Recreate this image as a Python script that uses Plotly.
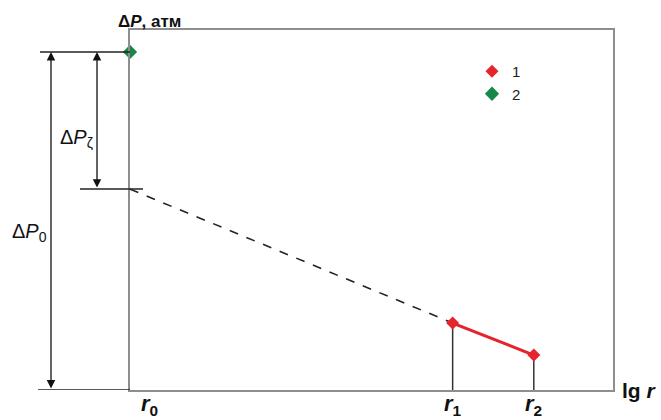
import plotly.graph_objects as go

# ---- data (arbitrary units) ----
tick_names = ["r0", "r1", "r2"]
lg_r = [0.0, 6.68, 8.36]          # positions of r0, r1, r2 on lg r axis
dp_measured = [1.86, 0.97]        # series 1: measured ΔP at r1, r2
dp_well = [9.39]                  # series 2: ΔP at the well radius r0
dp_extrap = 5.58                  # extrapolated ΔP at r0 (without skin)

FONT = "Arial, Liberation Sans, sans-serif"
RED = "#e5242b"
GREEN = "#17884a"

W, H = 661, 420
ML, MR, MT, MB = 130, 48, 30, 30
PW, PH = W - ML - MR, H - MT - MB

def px_to_paper_x(px):
    return (px - ML) / PW

def py_to_paper_y(py):
    return (H - MB - py) / PH

fig = go.Figure()

# dashed extrapolation
fig.add_trace(go.Scatter(x=[lg_r[0], lg_r[1]], y=[dp_extrap, dp_measured[0]],
                         mode="lines", line=dict(color="#222", width=1.6, dash="dash"),
                         showlegend=False, hoverinfo="skip"))
# measured red line
fig.add_trace(go.Scatter(x=lg_r[1:], y=dp_measured, mode="lines",
                         line=dict(color=RED, width=3), showlegend=False))
fig.add_trace(go.Scatter(x=lg_r[1:], y=dp_measured, mode="markers", name="1",
                         marker=dict(symbol="diamond", size=10, color=RED),
                         cliponaxis=False))
fig.add_trace(go.Scatter(x=[lg_r[0]], y=dp_well, mode="markers", name="2",
                         marker=dict(symbol="diamond", size=11, color=GREEN),
                         cliponaxis=False))

shapes = []
# vertical drop lines at r1, r2
for xv, yv in zip(lg_r[1:], dp_measured):
    shapes.append(dict(type="line", xref="x", yref="y", x0=xv, x1=xv, y0=0, y1=yv,
                       line=dict(color="#333", width=1.5), layer="below"))
# horizontal reference lines on the left
shapes.append(dict(type="line", xref="paper", yref="y", x0=px_to_paper_x(40), x1=0,
                   y0=dp_well[0], y1=dp_well[0], line=dict(color="#222", width=1.5)))
shapes.append(dict(type="line", xref="paper", yref="y", x0=px_to_paper_x(80),
                   x1=px_to_paper_x(143), y0=dp_extrap, y1=dp_extrap,
                   line=dict(color="#222", width=1.5)))
shapes.append(dict(type="line", xref="paper", yref="y", x0=px_to_paper_x(38), x1=0,
                   y0=0, y1=0, line=dict(color="#222", width=1.5)))

annotations = []
# double arrows
for px, ytop, ybot in [(51, dp_well[0], 0), (97, dp_well[0], dp_extrap)]:
    annotations.append(dict(xref="paper", yref="y", x=px_to_paper_x(px), y=ytop,
                            axref="pixel", ayref="y", ax=0, ay=ybot, text="",
                            showarrow=True, arrowhead=2, startarrowhead=2,
                            arrowside="end+start", arrowsize=1.3, arrowwidth=1.3,
                            arrowcolor="#111", standoff=0, startstandoff=0))

def label(px, py, text, size, xref="paper", x=None, xshift=0):
    return dict(xref=xref, yref="paper", x=px_to_paper_x(px) if x is None else x,
                y=py_to_paper_y(py), xanchor="center", yanchor="middle", xshift=xshift,
                text=text, showarrow=False, font=dict(family=FONT, size=size, color="#111"))

# side labels
annotations.append(label(76, 138, "Δ<i>P</i><sub>ζ</sub>", 20))
annotations.append(label(29, 232, "Δ<i>P</i><sub>0</sub>", 20))
# axis titles
annotations.append(label(149, 21, "<b>Δ<i>P</i>, атм</b>", 17))
annotations.append(label(639, 390, "<b>lg <i>r</i></b>", 21))
# tick labels
for name, xv in zip(tick_names, lg_r):
    shift = 19 if name == "r0" else 0
    annotations.append(label(0, 405, f"<b><i>r</i><sub>{name[1:]}</sub></b>", 22,
                             xref="x", x=xv, xshift=shift))

axis_common = dict(showgrid=False, zeroline=False, showticklabels=False, ticks="",
                   showline=True, mirror=True, linecolor="#8e8e8e", linewidth=1.5,
                   fixedrange=True)

fig.update_layout(
    width=W, height=H,
    margin=dict(l=ML, r=MR, t=MT, b=MB),
    paper_bgcolor="white", plot_bgcolor="white",
    xaxis=dict(range=[0, 10], **axis_common),
    yaxis=dict(range=[0, 10], **axis_common),
    shapes=shapes, annotations=annotations,
    legend=dict(x=px_to_paper_x(472), y=py_to_paper_y(55), xanchor="left", yanchor="top",
                bgcolor="rgba(0,0,0,0)", font=dict(family=FONT, size=15, color="#222"),
                tracegroupgap=0, itemwidth=30),
    showlegend=True,
)

fig.write_html("out.html", config={"displayModeBar": False},
               post_script="document.body.style.margin='0';document.body.style.overflow='hidden';")
